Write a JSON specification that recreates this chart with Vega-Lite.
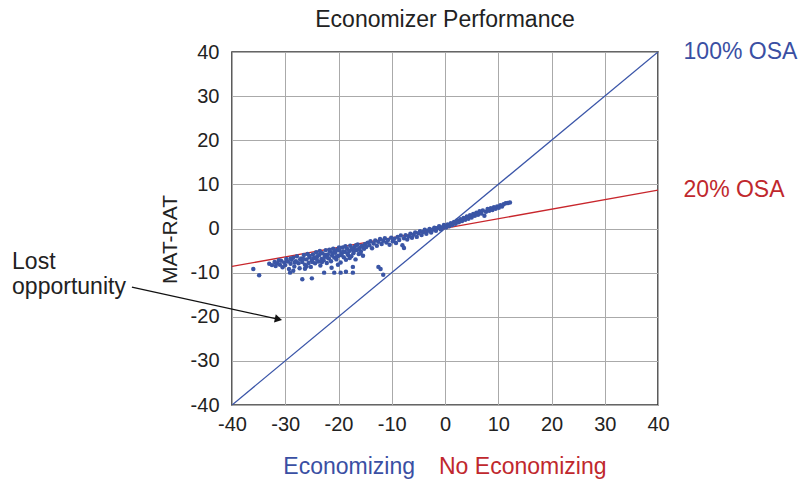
{
  "$schema": "https://vega.github.io/schema/vega-lite/v6.json",
  "autosize": {"type": "none"},
  "padding": {"left": 232, "top": 52, "right": 142, "bottom": 78},
  "width": 426,
  "height": 353,
  "title": {"text": "Economizer Performance", "font": "Liberation Sans", "fontSize": 23, "fontWeight": "normal", "color": "#222", "offset": 9},
  "config": {
    "view": {"stroke": "#333", "strokeWidth": 1.6},
    "axis": {"labelFont": "Liberation Sans", "labelFontSize": 20, "labelColor": "#222", "labelFlush": false, "titleFont": "Liberation Sans", "titleFontSize": 21, "titleFontWeight": "normal", "titleColor": "#222", "domain": false, "ticks": false, "gridColor": "#aaaaaa", "gridWidth": 1, "gridOpacity": 1}
  },
  "datasets": {
    "pts": [
      {"x":-36,"y":-9.2},{"x":-34.9,"y":-10.6},
      {"x":-33,"y":-8.0},{"x":-32.5,"y":-8.3},{"x":-32,"y":-7.6},{"x":-31.8,"y":-8.5},{"x":-31.5,"y":-7.9},{"x":-31,"y":-8.2},{"x":-30.8,"y":-7.3},{"x":-30.5,"y":-8.8},{"x":-30.2,"y":-7.7},{"x":-30,"y":-8.3},{"x":-29.8,"y":-6.9},{"x":-29.5,"y":-7.5},{"x":-29.3,"y":-9.2},{"x":-29,"y":-8.0},{"x":-28.8,"y":-7.1},{"x":-28.5,"y":-6.6},{"x":-28.3,"y":-8.6},{"x":-28,"y":-7.4},{"x":-27.8,"y":-6.3},{"x":-27.5,"y":-7.9},{"x":-27.3,"y":-9.0},{"x":-27,"y":-6.8},{"x":-26.8,"y":-7.6},{"x":-26.5,"y":-6.0},{"x":-26.3,"y":-8.2},{"x":-26,"y":-7.0},{"x":-25.8,"y":-5.8},{"x":-25.6,"y":-7.8},{"x":-25.4,"y":-6.5},{"x":-25.2,"y":-8.7},{"x":-25,"y":-7.2},{"x":-24.8,"y":-5.9},{"x":-24.6,"y":-6.7},{"x":-24.4,"y":-7.9},{"x":-24.2,"y":-5.4},{"x":-24,"y":-6.3},{"x":-23.8,"y":-7.5},{"x":-23.6,"y":-6.0},{"x":-23.4,"y":-8.4},{"x":-23.2,"y":-6.9},{"x":-23,"y":-5.6},{"x":-22.8,"y":-7.2},{"x":-22.6,"y":-6.4},{"x":-22.4,"y":-4.9},{"x":-22.2,"y":-7.8},{"x":-22,"y":-5.9},{"x":-21.8,"y":-6.8},{"x":-21.6,"y":-5.2},{"x":-21.4,"y":-7.4},{"x":-21.2,"y":-6.1},{"x":-21,"y":-4.6},{"x":-20.8,"y":-6.6},{"x":-20.6,"y":-5.5},{"x":-20.4,"y":-7.0},{"x":-20.2,"y":-4.8},{"x":-20,"y":-6.2},{"x":-19.8,"y":-5.0},{"x":-19.6,"y":-7.7},{"x":-19.4,"y":-5.7},{"x":-19.2,"y":-4.3},{"x":-19,"y":-6.5},{"x":-18.8,"y":-5.3},{"x":-18.6,"y":-7.1},{"x":-18.4,"y":-4.6},{"x":-18.2,"y":-6.0},{"x":-18,"y":-5.1},{"x":-17.8,"y":-3.9},{"x":-17.6,"y":-6.3},{"x":-17.4,"y":-4.8},{"x":-17.2,"y":-5.6},{"x":-17,"y":-4.2},{"x":-16.8,"y":-7.0},{"x":-16.6,"y":-4.9},{"x":-16.4,"y":-3.6},{"x":-16.2,"y":-5.8},{"x":-16,"y":-4.4},{"x":-15.8,"y":-5.2},{"x":-15.6,"y":-3.9},{"x":-15.4,"y":-6.2},{"x":-15.2,"y":-4.6},{"x":-15,"y":-3.5},
      {"x":-31.2,"y":-7.2},{"x":-29,"y":-6.8},{"x":-28.2,"y":-7.7},{"x":-27.2,"y":-7.0},{"x":-26.6,"y":-6.9},{"x":-26,"y":-8.6},{"x":-25.5,"y":-6.2},{"x":-24.9,"y":-7.6},{"x":-24.1,"y":-6.9},{"x":-23.5,"y":-5.1},{"x":-23.1,"y":-7.6},{"x":-22.5,"y":-6.0},{"x":-22.1,"y":-6.6},{"x":-21.7,"y":-4.8},{"x":-21.1,"y":-5.6},{"x":-20.7,"y":-5.0},{"x":-20.3,"y":-6.4},{"x":-19.9,"y":-4.3},{"x":-19.5,"y":-6.0},{"x":-19.1,"y":-5.2},{"x":-18.7,"y":-4.0},{"x":-18.3,"y":-5.7},{"x":-17.9,"y":-6.7},{"x":-17.5,"y":-4.5},{"x":-17.1,"y":-5.1},{"x":-16.7,"y":-3.8},{"x":-16.3,"y":-4.7},{"x":-15.9,"y":-5.6},{"x":-15.5,"y":-4.0},
      {"x":-29.1,"y":-10.0},{"x":-28.5,"y":-9.6},{"x":-26.8,"y":-11.5},{"x":-25,"y":-11.3},{"x":-26.3,"y":-9.1},{"x":-22.7,"y":-10.0},{"x":-21.3,"y":-8.9},{"x":-20.8,"y":-10.0},{"x":-19.6,"y":-10.0},{"x":-18.6,"y":-9.8},{"x":-17.3,"y":-8.7},{"x":-17.3,"y":-10.0},{"x":-20.1,"y":-8.2},{"x":-12.5,"y":-8.7},{"x":-12.1,"y":-9.2},{"x":-11.6,"y":-10.5},
      {"x":-14.8,"y":-4.2},{"x":-14.5,"y":-3.2},{"x":-14.2,"y":-3.8},{"x":-14,"y":-2.9},{"x":-13.7,"y":-4.5},{"x":-13.4,"y":-3.4},{"x":-13.1,"y":-2.7},{"x":-12.8,"y":-3.9},{"x":-12.5,"y":-3.0},{"x":-12.2,"y":-2.4},{"x":-11.9,"y":-3.5},{"x":-11.6,"y":-2.8},{"x":-11.3,"y":-2.2},{"x":-11,"y":-3.2},{"x":-10.7,"y":-2.6},{"x":-10.4,"y":-3.7},{"x":-10.1,"y":-2.1},{"x":-9.8,"y":-2.9},{"x":-9.5,"y":-2.3},{"x":-9.2,"y":-3.3},{"x":-8.9,"y":-1.9},{"x":-8.6,"y":-2.6},{"x":-8.3,"y":-1.6},{"x":-8,"y":-3.8},{"x":-7.7,"y":-4.4},{"x":-7.7,"y":-2.2},{"x":-7.4,"y":-1.5},{"x":-7.1,"y":-2.5},{"x":-6.8,"y":-1.8},{"x":-6.5,"y":-1.2},{"x":-6.2,"y":-2.1},{"x":-5.9,"y":-1.4},{"x":-5.6,"y":-0.9},{"x":-5.3,"y":-1.9},{"x":-5,"y":-1.1},{"x":-4.7,"y":-0.6},{"x":-4.4,"y":-1.5},{"x":-4.1,"y":-0.8},{"x":-3.8,"y":-0.3},{"x":-3.5,"y":-1.2},{"x":-3.2,"y":-0.5},{"x":-2.9,"y":-0.1},{"x":-2.6,"y":-0.9},{"x":-2.3,"y":-0.3},{"x":-2,"y":0.2},{"x":-1.7,"y":-0.5},{"x":-1.4,"y":0.1},{"x":-1.1,"y":0.5},{"x":-0.8,"y":-0.2},{"x":-0.5,"y":0.3},{"x":-0.2,"y":0.8},
      {"x":0.2,"y":0.2},{"x":0.5,"y":0.9},{"x":0.8,"y":0.5},{"x":1.1,"y":1.2},{"x":1.4,"y":0.8},{"x":1.7,"y":1.5},{"x":2,"y":1.1},{"x":2.3,"y":1.8},{"x":2.6,"y":1.4},{"x":2.9,"y":2.1},{"x":3.2,"y":1.7},{"x":3.5,"y":2.4},{"x":3.8,"y":2.0},{"x":4.1,"y":2.7},{"x":4.4,"y":2.2},{"x":4.7,"y":3.0},{"x":5,"y":2.5},{"x":5.3,"y":3.3},{"x":5.6,"y":2.9},{"x":5.9,"y":3.6},{"x":6.2,"y":3.1},{"x":6.5,"y":3.9},{"x":6.8,"y":3.4},{"x":7.1,"y":4.1},{"x":7.4,"y":2.9},{"x":7.7,"y":3.8},{"x":8,"y":4.4},{"x":8.3,"y":4.0},{"x":8.6,"y":4.6},{"x":8.9,"y":4.2},{"x":9.2,"y":4.8},{"x":9.5,"y":4.5},{"x":9.8,"y":5.0},{"x":10.1,"y":4.7},{"x":10.4,"y":5.3},{"x":10.7,"y":5.0},{"x":11,"y":5.5},{"x":11.4,"y":5.7},{"x":11.8,"y":5.8},{"x":12.2,"y":5.9}
    ],
    "lines": [
      {"line":"100","x":-40,"y":-40},{"line":"100","x":40,"y":40},
      {"line":"20","x":-40,"y":-8.6},{"line":"20","x":40,"y":8.7}
    ],
    "leftlabels": [
      {"t":"100% OSA","x":44.8,"y":40,"c":"#3a4fa3"},
      {"t":"20% OSA","x":44.8,"y":8.7,"c":"#c0282d"},
      {"t":"Lost","x":-81.3,"y":-7.6,"c":"#222"},
      {"t":"opportunity","x":-81.3,"y":-13.3,"c":"#222"}
    ],
    "centerlabels": [
      {"t":"Economizing","x":-18,"y":-54.1,"c":"#3a4fa3"},
      {"t":"No Economizing","x":14.6,"y":-54.1,"c":"#c0282d"}
    ],
    "arrow": [
      {"x":-58.8,"y":-13.3},{"x":-31.2,"y":-20.6}
    ],
    "head": [
      {"x":-31.5,"y":-20.5}
    ]
  },
  "layer": [
    {
      "data": {"name": "lines"},
      "mark": {"type": "line", "strokeWidth": 1.3, "clip": true},
      "encoding": {
        "x": {"field": "x", "type": "quantitative", "scale": {"domain": [-40, 40]}, "axis": {"values": [-40,-30,-20,-10,0,10,20,30,40], "labelExpr": "'' + datum.value", "labelPadding": 9, "title": null}},
        "y": {"field": "y", "type": "quantitative", "scale": {"domain": [-40, 40]}, "axis": {"values": [-40,-30,-20,-10,0,10,20,30,40], "labelExpr": "'' + datum.value", "labelPadding": 13, "title": "MAT-RAT", "titlePadding": 10, "titleY": 187}},
        "detail": {"field": "line"},
        "color": {"field": "line", "type": "nominal", "scale": {"domain": ["100","20"], "range": ["#3a55a8", "#c8262c"]}, "legend": null}
      }
    },
    {
      "data": {"name": "pts"},
      "mark": {"type": "circle", "size": 20, "color": "#3a55a5", "opacity": 1},
      "encoding": {
        "x": {"field": "x", "type": "quantitative"},
        "y": {"field": "y", "type": "quantitative"}
      }
    },
    {
      "data": {"name": "leftlabels"},
      "mark": {"type": "text", "font": "Liberation Sans", "fontSize": 23, "baseline": "middle", "align": "left", "clip": false},
      "encoding": {
        "x": {"field": "x", "type": "quantitative"},
        "y": {"field": "y", "type": "quantitative"},
        "text": {"field": "t"},
        "color": {"field": "c", "type": "nominal", "scale": null}
      }
    },
    {
      "data": {"name": "centerlabels"},
      "mark": {"type": "text", "font": "Liberation Sans", "fontSize": 23, "baseline": "middle", "align": "center", "clip": false},
      "encoding": {
        "x": {"field": "x", "type": "quantitative"},
        "y": {"field": "y", "type": "quantitative"},
        "text": {"field": "t"},
        "color": {"field": "c", "type": "nominal", "scale": null}
      }
    },
    {
      "data": {"name": "arrow"},
      "mark": {"type": "line", "color": "#111", "strokeWidth": 1.2, "clip": false},
      "encoding": {
        "x": {"field": "x", "type": "quantitative"},
        "y": {"field": "y", "type": "quantitative"}
      }
    },
    {
      "data": {"name": "head"},
      "mark": {"type": "point", "shape": "triangle", "filled": true, "color": "#111", "size": 70, "angle": 102, "opacity": 1, "clip": false},
      "encoding": {
        "x": {"field": "x", "type": "quantitative"},
        "y": {"field": "y", "type": "quantitative"}
      }
    }
  ]
}
